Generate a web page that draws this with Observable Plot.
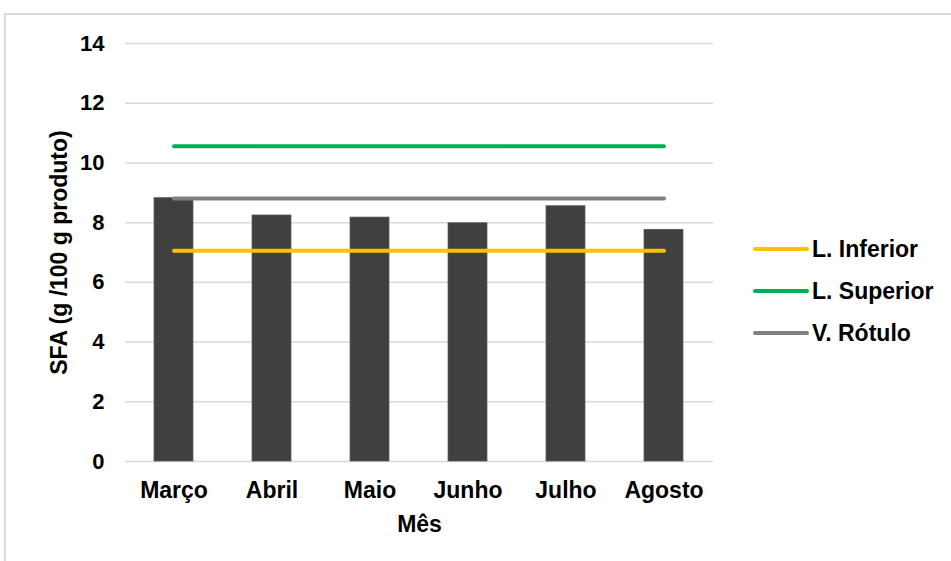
<!DOCTYPE html>
<html>
<head>
<meta charset="utf-8">
<script src="https://cdn.jsdelivr.net/npm/d3@7"></script>
<script src="https://cdn.jsdelivr.net/npm/@observablehq/plot@0.6"></script>
<style>
  html, body { margin: 0; padding: 0; background: #fff; overflow: hidden; }
  #wrap { position: relative; width: 951px; height: 561px; font-family: "Liberation Sans", Arial, sans-serif; }
  #frame { position: absolute; left: 4px; top: 13px; width: 2000px; height: 2000px; border: 2px solid #d9d9d9; box-sizing: border-box; }
  #chart { position: absolute; left: 0; top: 0; }
  #legend { position: absolute; left: 752px; top: 0; }
  .item { position: absolute; left: 0; display: flex; align-items: center; white-space: nowrap; font-weight: bold; font-size: 23px; color: #000; }
  .item svg { display: block; margin-right: 2px; }
</style>
</head>
<body>
<div id="wrap"><div id="frame"></div><div id="chart"></div><div id="legend"></div></div>
<script>
const months = ["Março", "Abril", "Maio", "Junho", "Julho", "Agosto"];
const sfaValues = [8.82, 8.24, 8.17, 7.98, 8.55, 7.76];
const limitNames = ["L. Inferior", "L. Superior", "V. Rótulo"];
const limitValues = [7.06, 10.56, 8.81];
const limitColors = ["#FFC000", "#00B050", "#808080"];
const yTicks = [0, 2, 4, 6, 8, 10, 12, 14];
const xTitle = "Mês";
const yTitle = "SFA (g /100 g produto)";

const bars = months.map((m, i) => ({month: m, value: sfaValues[i]}));
const lines = limitNames.flatMap((name, j) => months.map(m => ({series: name, month: m, value: limitValues[j]})));

const font = "'Liberation Sans', Arial, sans-serif";
const chart = Plot.plot({
  width: 951,
  height: 561,
  marginLeft: 125,
  marginRight: 238,
  marginTop: 43,
  marginBottom: 100,
  style: {fontFamily: font, fontSize: "22px", fontWeight: "bold", color: "#000", background: "transparent"},
  x: {domain: months, paddingInner: 0.6, paddingOuter: 0.3},
  y: {domain: [0, 14]},
  color: {domain: limitNames, range: limitColors},
  marks: [
    Plot.gridY(yTicks, {stroke: "#d9d9d9", strokeOpacity: 1, strokeWidth: 1.5}),
    Plot.axisY(yTicks, {tickSize: 0, tickPadding: 21, label: null, fill: "#000", fontSize: 22}),
    Plot.axisX({tickSize: 0, tickPadding: 20, label: null, fill: "#000", fontSize: 23}),
    Plot.barY(bars, {x: "month", y: "value", fill: "#404040", stroke: "#5a5a5a", strokeWidth: 0.75}),
    Plot.lineY(lines, {x: "month", y: "value", z: "series", stroke: "series", strokeWidth: 4, strokeLinecap: "round"}),
    Plot.text([yTitle], {frameAnchor: "left", textAnchor: "middle", rotate: -90, dx: -66, fontSize: 23, fontWeight: "bold", fill: "#000"}),
    Plot.text([xTitle], {frameAnchor: "bottom", dy: 70, fontSize: 23, fontWeight: "bold", fill: "#000"})
  ]
});
document.getElementById("chart").appendChild(chart);

const legend = document.getElementById("legend");
const rowTops = [249, 291, 333];
limitNames.forEach((name, i) => {
  const div = document.createElement("div");
  div.className = "item";
  div.style.top = (rowTops[i] - 13) + "px";
  div.style.height = "26px";
  div.innerHTML = `<svg width="58" height="8"><line x1="3" y1="4" x2="55" y2="4" stroke="${limitColors[i]}" stroke-width="4" stroke-linecap="round"/></svg><span>${name}</span>`;
  legend.appendChild(div);
});
</script>
</body>
</html>
